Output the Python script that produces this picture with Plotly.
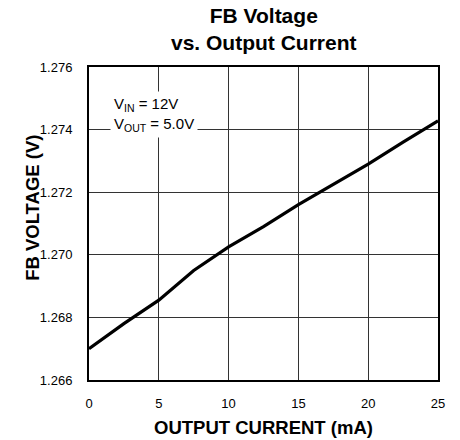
import plotly.graph_objects as go

current_ma = [0, 2.5, 5, 7.5, 10, 12.5, 15, 17.5, 20, 22.5, 25]
fb_voltage = [1.2670, 1.2678, 1.26855, 1.2695, 1.27025, 1.2709, 1.2716, 1.27225, 1.2729, 1.2736, 1.27428]
x_ticks = [0, 5, 10, 15, 20, 25]
y_ticks = [1.266, 1.268, 1.270, 1.272, 1.274, 1.276]
y_tick_labels = ["1.266", "1.268", "1.270", "1.272", "1.274", "1.276"]

FONT = "Liberation Sans, Arial, sans-serif"

fig = go.Figure()
fig.add_trace(go.Scatter(x=current_ma, y=fb_voltage, mode="lines",
                         line=dict(color="black", width=3.2), showlegend=False))

fig.update_layout(
    width=452, height=432,
    margin=dict(l=81, r=22, t=59, b=60, autoexpand=False),
    paper_bgcolor="white", plot_bgcolor="white",
    font=dict(family=FONT, color="black", size=13),
    xaxis=dict(range=[0, 25], tickvals=x_ticks, showgrid=True, gridcolor="#333", gridwidth=1,
               showline=True, linecolor="black", linewidth=2, mirror=True, ticks="",
               zeroline=False, tickfont=dict(size=13), ticklabelstandoff=10, automargin=False),
    yaxis=dict(range=[1.266, 1.276], tickvals=y_ticks, ticktext=y_tick_labels,
               showgrid=True, gridcolor="#333", gridwidth=1,
               showline=True, linecolor="black", linewidth=2, mirror=True, ticks="",
               zeroline=False, tickfont=dict(size=13), ticklabelstandoff=12, automargin=False),
)

fig.add_annotation(x=0.5, y=1, xref="paper", yref="paper", xanchor="center", yanchor="middle",
                   yshift=38.5, text="<b>FB Voltage<br>vs. Output Current</b>", showarrow=False,
                   font=dict(family=FONT, size=21, color="black"))
fig.add_annotation(x=0.5, y=0, xref="paper", yref="paper", xanchor="center", yanchor="middle",
                   yshift=-47, text="<b>OUTPUT CURRENT (mA)</b>", showarrow=False,
                   font=dict(family=FONT, size=18.5, color="black"))
fig.add_annotation(x=0, y=1.2715, xref="paper", yref="y", xanchor="center", yanchor="middle",
                   xshift=-56, textangle=-90, text="<b>FB VOLTAGE (V)</b>", showarrow=False,
                   font=dict(family=FONT, size=18.5, color="black"))

fig.add_annotation(x=1.5, y=1.27447, xref="x", yref="y", xanchor="left", yanchor="middle",
                   text="V<sub>IN</sub> = 12V<br>V<sub>OUT</sub> = 5.0V", align="left",
                   showarrow=False, bgcolor="white", borderpad=3,
                   font=dict(family=FONT, size=15, color="black"))

fig.write_html("out.html")
